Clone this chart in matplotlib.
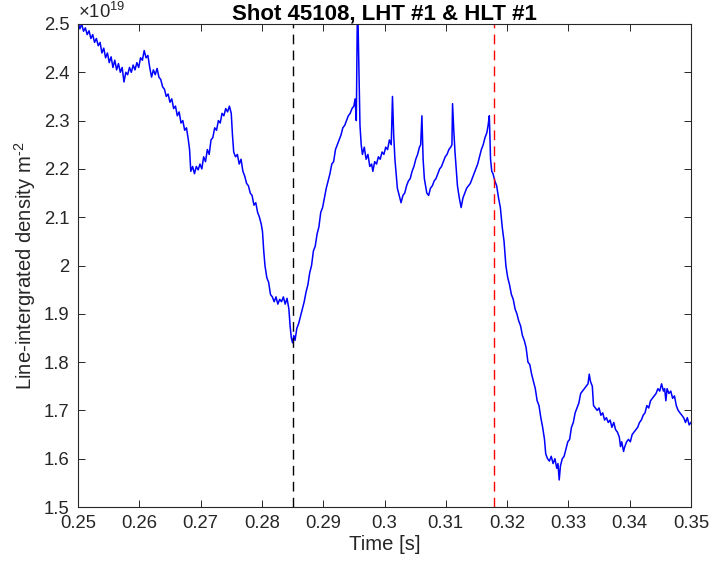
import numpy as np
import matplotlib
matplotlib.use("Agg")
import matplotlib.pyplot as plt
from matplotlib.ticker import FuncFormatter

plt.rcParams['font.family'] = ['Liberation Sans', 'DejaVu Sans']
plt.rcParams['mathtext.fontset'] = 'custom'
plt.rcParams['mathtext.rm'] = 'Liberation Sans'
plt.rcParams['mathtext.it'] = 'Liberation Sans'
plt.rcParams['axes.unicode_minus'] = False

# line-integrated density, units of 1e19 m^-2
t = [0.2500, 0.2503, 0.2506, 0.2509, 0.2512, 0.2515, 0.2518, 0.2521, 0.2524, 0.2527,
     0.2530, 0.2533, 0.2536, 0.2539, 0.2542, 0.2545, 0.2548, 0.2551, 0.2554, 0.2557,
     0.2560, 0.2563, 0.2566, 0.2569, 0.2572, 0.2575, 0.2578, 0.2581, 0.2584, 0.2587,
     0.2590, 0.2593, 0.2596, 0.2599, 0.2602, 0.2605, 0.2608, 0.2611, 0.2614, 0.2617,
     0.2620, 0.2623, 0.2626, 0.2629, 0.2632, 0.2635, 0.2638, 0.2641, 0.2644, 0.2647,
     0.2650, 0.2653, 0.2656, 0.2659, 0.2662, 0.2665, 0.2668, 0.2671, 0.2674, 0.2677,
     0.2680, 0.2682, 0.2684, 0.2687, 0.2690, 0.2693, 0.2696, 0.2699, 0.2702, 0.2705,
     0.2708, 0.2711, 0.2714, 0.2717, 0.2720, 0.2723, 0.2726, 0.2729, 0.2732, 0.2735,
     0.2738, 0.2741, 0.2744, 0.2747, 0.2750, 0.2752, 0.2754, 0.2757, 0.2760, 0.2763,
     0.2766, 0.2769, 0.2772, 0.2775, 0.2778, 0.2781, 0.2784, 0.2787, 0.2790, 0.2793,
     0.2796, 0.2799, 0.2801, 0.2803, 0.2805, 0.2808, 0.2811, 0.2814, 0.2817, 0.2820,
     0.2823, 0.2826, 0.2829, 0.2832, 0.2835, 0.2838, 0.2841, 0.2844, 0.2846, 0.2848,
     0.2850, 0.2852, 0.2854, 0.2857, 0.2860, 0.2863, 0.2866, 0.2869, 0.2872, 0.2875,
     0.2878, 0.2881, 0.2884, 0.2887, 0.2890, 0.2893, 0.2896, 0.2899, 0.2902, 0.2905,
     0.2908, 0.2911, 0.2914, 0.2917, 0.2920, 0.2923, 0.2926, 0.2929, 0.2932, 0.2935,
     0.2938, 0.2941, 0.2944, 0.2947, 0.2950, 0.2952, 0.2954, 0.2956, 0.2958, 0.2960,
     0.2962, 0.2964, 0.2967, 0.2970, 0.2973, 0.2976, 0.2979, 0.2981, 0.2984, 0.2987,
     0.2990, 0.2993, 0.2996, 0.2999, 0.3002, 0.3005, 0.3008, 0.3011, 0.3013, 0.3015,
     0.3017, 0.3019, 0.3021, 0.3024, 0.3027, 0.3030, 0.3033, 0.3036, 0.3039, 0.3042,
     0.3045, 0.3048, 0.3051, 0.3054, 0.3057, 0.3059, 0.3061, 0.3063, 0.3065, 0.3067,
     0.3069, 0.3072, 0.3075, 0.3078, 0.3081, 0.3084, 0.3087, 0.3090, 0.3093, 0.3096,
     0.3099, 0.3102, 0.3105, 0.3108, 0.3110, 0.3111, 0.3113, 0.3115, 0.3117, 0.3119,
     0.3122, 0.3125, 0.3128, 0.3131, 0.3134, 0.3137, 0.3140, 0.3143, 0.3146, 0.3149,
     0.3152, 0.3155, 0.3158, 0.3161, 0.3164, 0.3167, 0.3169, 0.3171, 0.3173, 0.3175,
     0.3177, 0.3180, 0.3183, 0.3186, 0.3189, 0.3192, 0.3195, 0.3198, 0.3201, 0.3204,
     0.3207, 0.3210, 0.3213, 0.3216, 0.3219, 0.3222, 0.3225, 0.3228, 0.3231, 0.3234,
     0.3237, 0.3240, 0.3243, 0.3246, 0.3249, 0.3252, 0.3255, 0.3258, 0.3261, 0.3263,
     0.3266, 0.3269, 0.3272, 0.3275, 0.3278, 0.3281, 0.3283, 0.3285, 0.3287, 0.3290,
     0.3293, 0.3296, 0.3299, 0.3302, 0.3305, 0.3308, 0.3311, 0.3314, 0.3317, 0.3320,
     0.3323, 0.3326, 0.3329, 0.3332, 0.3334, 0.3336, 0.3339, 0.3341, 0.3344, 0.3347,
     0.3350, 0.3353, 0.3356, 0.3359, 0.3362, 0.3365, 0.3368, 0.3371, 0.3374, 0.3377,
     0.3380, 0.3383, 0.3385, 0.3387, 0.3390, 0.3392, 0.3395, 0.3398, 0.3401, 0.3404,
     0.3407, 0.3410, 0.3413, 0.3416, 0.3419, 0.3422, 0.3425, 0.3428, 0.3431, 0.3434,
     0.3437, 0.3440, 0.3443, 0.3446, 0.3449, 0.3452, 0.3455, 0.3457, 0.3459, 0.3461,
     0.3464, 0.3467, 0.3470, 0.3473, 0.3476, 0.3479, 0.3482, 0.3485, 0.3488, 0.3491,
     0.3494, 0.3497, 0.3500]
ne = [2.505, 2.490, 2.500, 2.485, 2.492, 2.478, 2.486, 2.470, 2.478, 2.462,
      2.470, 2.455, 2.462, 2.440, 2.450, 2.430, 2.440, 2.420, 2.432, 2.410,
      2.425, 2.405, 2.418, 2.400, 2.410, 2.380, 2.400, 2.395, 2.410, 2.400,
      2.415, 2.405, 2.420, 2.410, 2.430, 2.425, 2.445, 2.430, 2.435, 2.410,
      2.390, 2.405, 2.395, 2.408, 2.390, 2.385, 2.370, 2.365, 2.350, 2.355,
      2.338, 2.345, 2.325, 2.330, 2.310, 2.318, 2.295, 2.300, 2.280, 2.285,
      2.260, 2.240, 2.195, 2.205, 2.190, 2.205, 2.198, 2.210, 2.200, 2.225,
      2.215, 2.240, 2.230, 2.260, 2.265, 2.285, 2.280, 2.300, 2.295, 2.315,
      2.310, 2.325, 2.318, 2.330, 2.315, 2.270, 2.235, 2.225, 2.230, 2.210,
      2.220, 2.195, 2.185, 2.170, 2.165, 2.150, 2.145, 2.125, 2.130, 2.110,
      2.100, 2.085, 2.070, 2.030, 2.000, 1.975, 1.965, 1.940, 1.935, 1.925,
      1.935, 1.920, 1.930, 1.925, 1.935, 1.920, 1.932, 1.910, 1.875, 1.850,
      1.840, 1.855, 1.845, 1.870, 1.880, 1.895, 1.910, 1.925, 1.945, 1.960,
      1.985, 2.000, 2.030, 2.040, 2.065, 2.080, 2.110, 2.120, 2.140, 2.160,
      2.175, 2.190, 2.210, 2.215, 2.240, 2.250, 2.260, 2.270, 2.285, 2.290,
      2.300, 2.310, 2.315, 2.325, 2.330, 2.345, 2.300, 2.560, 2.420, 2.290,
      2.250, 2.230, 2.245, 2.220, 2.230, 2.205, 2.210, 2.195, 2.215, 2.210,
      2.225, 2.220, 2.235, 2.230, 2.245, 2.240, 2.260, 2.250, 2.350, 2.270,
      2.220, 2.190, 2.160, 2.145, 2.130, 2.145, 2.150, 2.165, 2.175, 2.180,
      2.195, 2.205, 2.220, 2.230, 2.245, 2.250, 2.310, 2.220, 2.180, 2.165,
      2.150, 2.145, 2.160, 2.165, 2.175, 2.180, 2.190, 2.200, 2.205, 2.215,
      2.225, 2.230, 2.240, 2.245, 2.250, 2.335, 2.280, 2.235, 2.200, 2.165,
      2.140, 2.120, 2.140, 2.150, 2.160, 2.165, 2.170, 2.180, 2.190, 2.200,
      2.210, 2.225, 2.240, 2.250, 2.265, 2.275, 2.290, 2.310, 2.220, 2.195,
      2.190, 2.175, 2.165, 2.140, 2.120, 2.080, 2.050, 2.000, 1.975, 1.960,
      1.940, 1.930, 1.910, 1.900, 1.885, 1.875, 1.855, 1.845, 1.830, 1.800,
      1.795, 1.775, 1.760, 1.745, 1.720, 1.710, 1.685, 1.665, 1.640, 1.610,
      1.600, 1.595, 1.605, 1.590, 1.600, 1.580, 1.590, 1.556, 1.585, 1.600,
      1.605, 1.620, 1.635, 1.640, 1.665, 1.675, 1.695, 1.705, 1.715, 1.735,
      1.740, 1.745, 1.750, 1.755, 1.775, 1.760, 1.750, 1.710, 1.705, 1.700,
      1.705, 1.690, 1.695, 1.680, 1.685, 1.675, 1.680, 1.665, 1.675, 1.660,
      1.655, 1.645, 1.625, 1.635, 1.615, 1.625, 1.635, 1.640, 1.635, 1.650,
      1.655, 1.660, 1.665, 1.675, 1.680, 1.690, 1.695, 1.710, 1.705, 1.720,
      1.725, 1.730, 1.735, 1.745, 1.740, 1.755, 1.740, 1.745, 1.720, 1.745,
      1.735, 1.740, 1.725, 1.730, 1.710, 1.700, 1.695, 1.690, 1.685, 1.675,
      1.685, 1.670, 1.675]

t_lht = 0.2851   # black marker
t_hlt = 0.3179   # red marker

xticks = [0.25, 0.26, 0.27, 0.28, 0.29, 0.30, 0.31, 0.32, 0.33, 0.34, 0.35]
yticks = [1.5, 1.6, 1.7, 1.8, 1.9, 2.0, 2.1, 2.2, 2.3, 2.4, 2.5]

fig = plt.figure(figsize=(7.1, 5.75), dpi=100)
ax = fig.add_axes([78/710, 1 - 507/575, (691 - 78)/710, (507 - 24)/575])

ax.plot(t, ne, color='#0000FF', lw=1.1)
ax.axvline(t_lht, color='k', lw=1.0, linestyle=(0, (7, 4.5)))
ax.axvline(t_hlt, color='#FF0000', lw=1.0, linestyle=(0, (7, 4.5)))

ax.set_xlim(0.25, 0.35)
ax.set_ylim(1.5, 2.5)
ax.set_xticks(xticks)
ax.set_yticks(yticks)
fmt = FuncFormatter(lambda v, p: '%g' % round(v, 4))
ax.xaxis.set_major_formatter(fmt)
ax.yaxis.set_major_formatter(fmt)

tc = '#262626'
ax.tick_params(direction='in', length=5, width=0.7, colors=tc, labelsize=13.3,
               top=True, right=True, pad=6)
for s in ax.spines.values():
    s.set_color(tc)
    s.set_linewidth(0.8)

ax.set_title('Shot 45108, LHT #1 & HLT #1', fontsize=16, fontweight='bold', pad=3)
ax.set_xlabel('Time [s]', fontsize=14.6, color=tc, labelpad=2)
ax.set_ylabel(r'Line-intergrated density m$^{\text{-2}}$', fontsize=14.6, color=tc, labelpad=4)
ax.text(0.0, 1.005, r'$\times 10^{19}$', transform=ax.transAxes, fontsize=13.3,
        color=tc, ha='left', va='bottom')

fig.savefig('out.png', dpi=100)
